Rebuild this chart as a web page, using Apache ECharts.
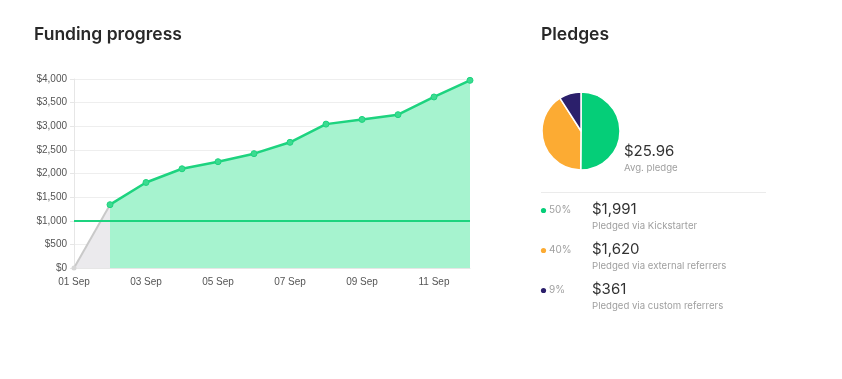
<!DOCTYPE html>
<html>
<head>
<meta charset="utf-8">
<script src="https://cdn.jsdelivr.net/npm/echarts@6/dist/echarts.min.js"></script>
<style>html,body{margin:0;padding:0;background:#fff}#c{width:842px;height:379px}</style>
</head>
<body>
<div id="c"></div>
<script>
const days = ['01 Sep','02 Sep','03 Sep','04 Sep','05 Sep','06 Sep','07 Sep','08 Sep','09 Sep','10 Sep','11 Sep','12 Sep'];
const funding = [0, 1340, 1810, 2100, 2250, 2420, 2660, 3045, 3145, 3245, 3620, 3972];
const goal = 1000;
const pledgeNames = ['Pledged via Kickstarter','Pledged via external referrers','Pledged via custom referrers'];
const pledgeValues = [1991, 1620, 361];
const pledgePct = ['50%','40%','9%'];
const pledgeLabels = ['$1,991','$1,620','$361'];
const pledgeColors = ['#05ce78','#fcab33','#2b1f6b'];
const avgPledge = '$25.96';

const greyPart = funding.map((v,i)=> i<=1 ? v : null);
const greenPart = funding.map((v,i)=> i>=1 ? v : null);

const chart = echarts.init(document.getElementById('c'));
const font = 'Inter, "Noto Sans", sans-serif';
const legendGraphics = [];
pledgeNames.forEach((n,i)=>{
  const y = 210 + i*40;
  legendGraphics.push({type:'circle', shape:{cx:543.5, cy:y+0.5, r:2.6}, style:{fill:pledgeColors[i]}});
  legendGraphics.push({type:'text', x:549, y:y, style:{text:pledgePct[i], font:'10px '+font, fill:'#a0a0a0', textVerticalAlign:'middle'}});
  legendGraphics.push({type:'text', x:592, y:y-1, style:{text:pledgeLabels[i], font:'15px '+font, fill:'#333', textVerticalAlign:'middle'}});
  legendGraphics.push({type:'text', x:592, y:y+16, style:{text:n, font:'9.6px '+font, fill:'#a0a0a0', textVerticalAlign:'middle'}});
});

chart.setOption({
  animation:false,
  grid:{left:74, right:372, top:79, bottom:111},
  xAxis:{type:'category', data:days, boundaryGap:false,
    axisLine:{show:true, lineStyle:{color:'#e6e6e6'}}, axisTick:{show:false},
    axisLabel:{interval:1, color:'#555', fontSize:10, fontFamily:'"Liberation Sans", Arial, sans-serif', margin:9},
    splitLine:{show:false}},
  yAxis:{type:'value', min:0, max:4000, interval:500,
    axisLine:{show:true, lineStyle:{color:'#e6e6e6'}},
    axisTick:{show:true, length:4, lineStyle:{color:'#e6e6e6'}},
    axisLabel:{color:'#555', fontSize:10, fontFamily:'"Liberation Sans", Arial, sans-serif', margin:7,
      formatter:v=>'$'+v.toLocaleString('en-US')},
    splitLine:{lineStyle:{color:'#eeeeee'}}},
  series:[
    {type:'line', data:greyPart, symbol:'circle', symbolSize:5, showSymbol:true,
      lineStyle:{color:'#c9c9c9', width:2}, itemStyle:{color:'#d6d6d6'},
      areaStyle:{color:'#ebeaed', opacity:1}, z:2},
    {type:'line', data:greenPart, symbol:'circle', symbolSize:6,
      lineStyle:{color:'#1dd37f', width:2.5}, itemStyle:{color:'#3bdb90', borderColor:'#1dd37f', borderWidth:1},
      areaStyle:{color:'#a6f3cf', opacity:1}, z:3,
      markLine:{silent:true, symbol:'none', label:{show:false}, lineStyle:{color:'#1dd37f', width:2, type:'solid'},
        data:[{yAxis:goal}]}},
    {type:'pie', center:[581,131], radius:39, startAngle:90, clockwise:true,
      label:{show:false}, labelLine:{show:false}, silent:true,
      itemStyle:{borderColor:'#fff', borderWidth:1.5},
      data:pledgeValues.map((v,i)=>({value:v, name:pledgeNames[i], itemStyle:{color:pledgeColors[i]}}))}
  ],
  graphic:[
    {type:'text', x:34, y:35, style:{text:'Funding progress', font:'600 17.5px '+font, fill:'#282828', textVerticalAlign:'middle'}},
    {type:'text', x:541, y:35, style:{text:'Pledges', font:'600 17.5px '+font, fill:'#282828', textVerticalAlign:'middle'}},
    {type:'text', x:624, y:151, style:{text:avgPledge, font:'15px '+font, fill:'#333', textVerticalAlign:'middle'}},
    {type:'text', x:624, y:168, style:{text:'Avg. pledge', font:'9.6px '+font, fill:'#a0a0a0', textVerticalAlign:'middle'}},
    {type:'line', shape:{x1:541, y1:192.5, x2:766, y2:192.5}, style:{stroke:'#ebebeb', lineWidth:1}},
    ...legendGraphics
  ]
});
</script>
</body>
</html>
